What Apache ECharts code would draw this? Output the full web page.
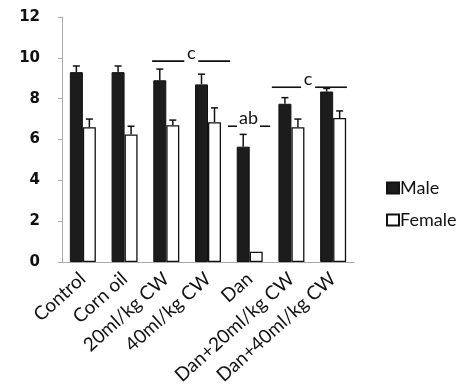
<!DOCTYPE html>
<html><head><meta charset="utf-8">
<script src="https://cdn.jsdelivr.net/npm/echarts@6/dist/echarts.min.js"></script>
<style>html,body{margin:0;padding:0;background:#fff}#c{width:462px;height:390px}</style>
</head><body><div id="c"></div>
<script>
var categories = ['Control','Corn oil','20ml/kg CW','40ml/kg CW','Dan','Dan+20ml/kg CW','Dan+40ml/kg CW'];
var maleValues = [9.3, 9.3, 8.9, 8.7, 5.65, 7.75, 8.35];
var maleErrors = [0.3, 0.3, 0.55, 0.5, 0.6, 0.3, 0.15];
var femaleValues = [6.6, 6.25, 6.7, 6.85, 0.5, 6.6, 7.05];
var femaleErrors = [0.4, 0.4, 0.25, 0.7, 0, 0.4, 0.35];
var yTicks = [0, 2, 4, 6, 8, 10, 12];
// annotations: [start position, end position, label position, y level, label]
var annotations = [
  [1.66, 3.53, 2.60, 9.84, 'c'],
  [3.48, 4.49, 3.97, 6.65, 'ab'],
  [4.53, 6.33, 5.40, 8.56, 'c']
];

var BW = 13;
var chart = echarts.init(document.getElementById('c'));
function errItem(sign){
  return function(params, api){
    var i = api.value(0), v = api.value(1), e = api.value(2);
    if (!e) return null;
    var p0 = api.coord([i, v]);
    var p1 = api.coord([i, v + e]);
    var x = p0[0] + sign * BW / 2;
    return {type:'group', children:[
      {type:'line', shape:{x1:x,y1:p0[1],x2:x,y2:p1[1]}, style:{stroke:'#111',lineWidth:1.5}},
      {type:'line', shape:{x1:x-3.5,y1:p1[1],x2:x+3.5,y2:p1[1]}, style:{stroke:'#111',lineWidth:1.5}}
    ]};
  };
}
var font = 'Lato, "Open Sans", sans-serif';
chart.setOption({
  animation:false,
  grid:{left:62,right:108,top:17,bottom:128},
  legend:{
    orient:'vertical', left:381, top:174, itemGap:14,
    itemWidth:12, itemHeight:11, icon:'rect',
    textStyle:{fontFamily:font,fontSize:18,color:'#111',padding:[0,0,0,-4]},
    data:['Male','Female']
  },
  xAxis:[{
    type:'category', data:categories,
    axisLine:{lineStyle:{color:'#aaa'}},
    axisTick:{show:false},
    axisLabel:{rotate:42, interval:0, fontFamily:font, fontSize:19, color:'#111', margin:14}
  },{
    type:'value', min:-0.5, max:6.5, show:false
  }],
  yAxis:{
    type:'value', min:0, max:12, interval:2,
    axisLine:{show:true, onZero:false, lineStyle:{color:'#aaa'}},
    axisTick:{show:true, length:4, lineStyle:{color:'#aaa'}},
    splitLine:{show:false},
    axisLabel:{fontFamily:'"DejaVu Sans", sans-serif', fontSize:15, fontWeight:'bold', color:'#111', margin:22,
      formatter:function(v){return yTicks.indexOf(v)>=0? String(v):'';}}
  },
  series:[
    {name:'Male', type:'bar', data:maleValues, barWidth:BW, barGap:'0%',
     itemStyle:{color:'#1c1c1c', borderColor:'#111', borderWidth:1}},
    {name:'Female', type:'bar', data:femaleValues, barWidth:BW, barGap:'0%',
     itemStyle:{color:'#fff', borderColor:'#111', borderWidth:1.3}},
    {type:'custom', renderItem:errItem(-1), data:maleValues.map(function(v,i){return [i,v,maleErrors[i]];}), z:5},
    {type:'custom', renderItem:errItem(1), data:femaleValues.map(function(v,i){return [i,v,femaleErrors[i]];}), z:5},
    {type:'custom', xAxisIndex:1, z:6,
     data:annotations.map(function(a){return [a[0],a[3]];}),
     renderItem:function(params, api){
       var a = annotations[params.dataIndex];
       var s = api.coord([a[0], a[3]]), e = api.coord([a[1], a[3]]), t = api.coord([a[2], a[3]]);
       var half = a[4].length * 4.5 + 2.5;
       return {type:'group', children:[
         {type:'line', shape:{x1:s[0],y1:s[1],x2:t[0]-half,y2:s[1]}, style:{stroke:'#111',lineWidth:1.6}},
         {type:'line', shape:{x1:t[0]+half,y1:s[1],x2:e[0],y2:s[1]}, style:{stroke:'#111',lineWidth:1.6}},
         {type:'text', x:t[0], y:s[1]+1, style:{text:a[4], fill:'#111', font:'18px '+font, align:'center', verticalAlign:'bottom'}}
       ]};
     }}
  ]
});
</script></body></html>
